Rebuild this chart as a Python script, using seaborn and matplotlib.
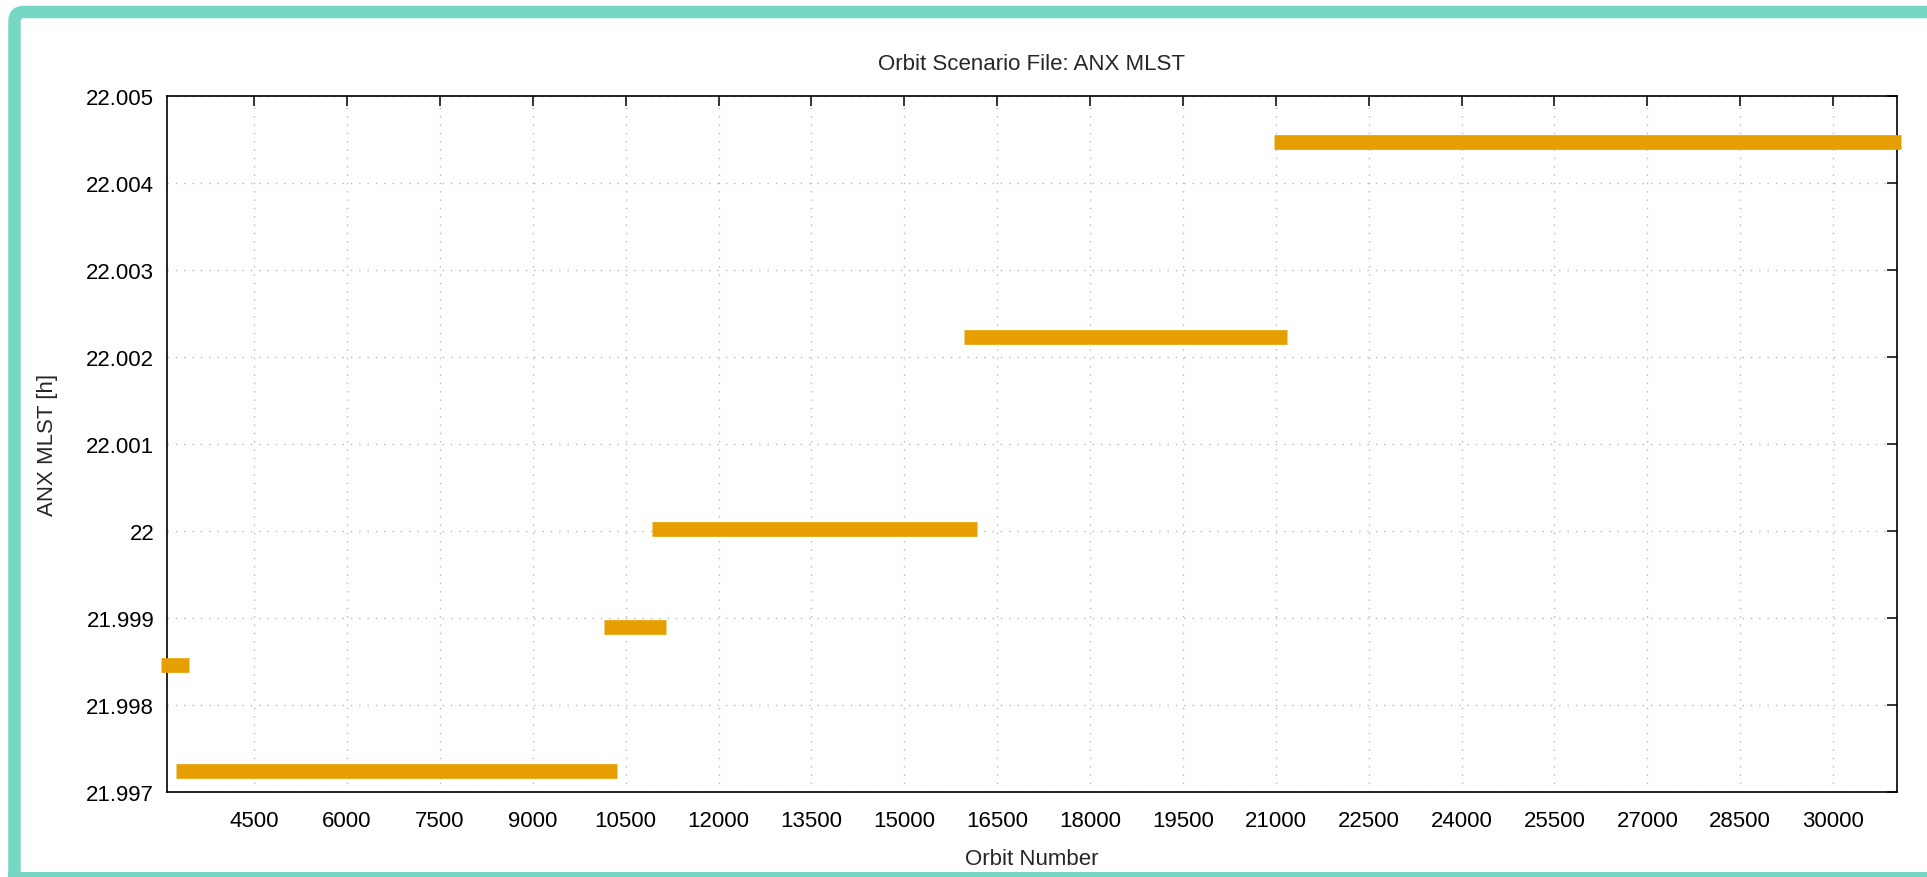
import numpy as np
import pandas as pd
import matplotlib
matplotlib.use("Agg")
import matplotlib.pyplot as plt
from matplotlib.patches import FancyBboxPatch, Rectangle
from matplotlib.transforms import IdentityTransform
from matplotlib.ticker import FuncFormatter
import seaborn as sns

# ANX MLST segments: start orbit, end orbit, value [h]
seg_start = [2991, 3237, 10158, 10928, 15968, 20972]
seg_end = [3453, 10366, 11144, 16176, 21187, 31094]
seg_mlst = [21.99846, 21.99724, 21.99890, 22.00002, 22.00223, 22.00447]

x_ticks = list(range(4500, 30001, 1500))
y_ticks = [21.997, 21.998, 21.999, 22.0, 22.001, 22.002, 22.003, 22.004, 22.005]


def build_frame():
    rows = []
    for i, (s, e, v) in enumerate(zip(seg_start, seg_end, seg_mlst)):
        rows.append({"segment": i, "orbit": s, "mlst": v})
        rows.append({"segment": i, "orbit": e, "mlst": v})
    return pd.DataFrame(rows)


df = build_frame()

sns.set_theme(style="white")
plt.rcParams["font.family"] = ["Liberation Sans", "DejaVu Sans"]

fig = plt.figure(figsize=(19.27, 8.78), dpi=100)
fig.patch.set_facecolor("white")

# teal rounded frame around the whole chart (cut by the right and bottom edges)
teal = "#76D7C4"
frame = FancyBboxPatch((14.5, -40), 1940, 905,
                       boxstyle="round,pad=0,rounding_size=9",
                       transform=IdentityTransform(), facecolor="none",
                       edgecolor=teal, linewidth=9)
fig.patches.append(frame)
fig.patches.append(Rectangle((8, 0), 1930, 5, transform=IdentityTransform(),
                             facecolor=teal, edgecolor="none"))

ax = fig.add_axes([0.0865, 0.0965, 0.8977, 0.7934])

sns.lineplot(data=df, x="orbit", y="mlst", units="segment", estimator=None,
             color="#E69F00", linewidth=10.6, solid_capstyle="butt",
             clip_on=False, ax=ax, zorder=3)

ax.set_xlim(3088, 31024)
ax.set_ylim(21.997, 22.005)
ax.set_xticks(x_ticks)
ax.set_yticks(y_ticks)
ax.yaxis.set_major_formatter(FuncFormatter(lambda v, p: "%g" % round(v, 6)))

ax.grid(True, color="#b8b8b8", linestyle=(0, (1, 5)), linewidth=1)
for sp in ax.spines.values():
    sp.set_visible(True)
    sp.set_color("black")
    sp.set_linewidth(1.2)

ax.tick_params(axis="both", direction="in", length=7, width=1.1,
               top=True, right=True, labelsize=16, colors="black")
ax.tick_params(axis="x", pad=13)
ax.tick_params(axis="y", pad=9)

ax.set_title("Orbit Scenario File: ANX MLST", fontsize=16, pad=19)
ax.set_xlabel("Orbit Number", fontsize=16)
ax.set_ylabel("ANX MLST [h]", fontsize=16)
ax.xaxis.set_label_coords(0.5, -0.08)
ax.yaxis.set_label_coords(-0.063, 0.5)

fig.savefig("out.png", dpi=100)
